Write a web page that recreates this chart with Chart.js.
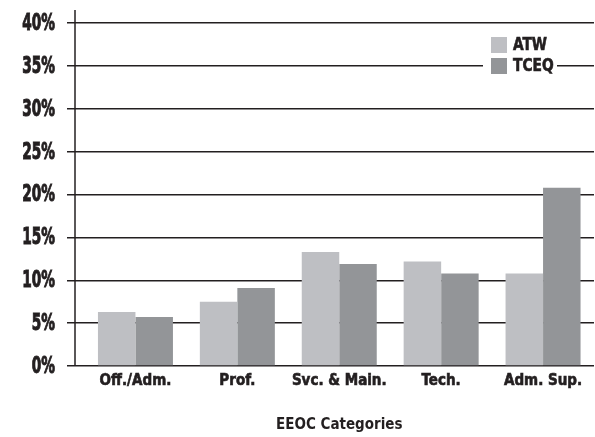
<!DOCTYPE html>
<html>
<head>
<meta charset="utf-8">
<script src="https://cdn.jsdelivr.net/npm/chart.js@4.4.1/dist/chart.umd.min.js"></script>
<style>
  html, body { margin: 0; padding: 0; background: #fff; }
  #wrap { width: 595px; height: 437px; }
</style>
</head>
<body>
<div id="wrap"><canvas id="eeoc" width="595" height="437"></canvas></div>
<script>
// EEOC category shares, ATW vs TCEQ (percent)
const categories = ['Off./Adm.', 'Prof.', 'Svc. & Main.', 'Tech.', 'Adm. Sup.'];
const atwValues = [6.3, 7.5, 13.3, 12.2, 10.8];
const tceqValues = [5.7, 9.1, 11.9, 10.8, 20.8];
const seriesNames = ['ATW', 'TCEQ'];
const yTicks = [0, 5, 10, 15, 20, 25, 30, 35, 40];
const axisTitle = 'EEOC Categories';

const INK = '#231f20';
const COLORS = ['#bebfc3', '#939598'];
const FONT = '"Liberation Sans Narrow", "DejaVu Sans Condensed", "Arial Narrow", sans-serif';

// vertical axis line sits left of the plot, ticks poke out past it
const axisLinePlugin = {
  id: 'axisLine',
  beforeDatasetsDraw(chart) {
    const { ctx, scales: { y } } = chart;
    ctx.save();
    ctx.strokeStyle = INK;
    ctx.lineWidth = 1.5;
    ctx.beginPath();
    ctx.moveTo(75, 10);
    ctx.lineTo(75, y.getPixelForValue(0));
    ctx.stroke();
    ctx.restore();
  }
};

// big squeezed percent labels, right-aligned at x=55
const yLabelPlugin = {
  id: 'yLabels',
  afterDraw(chart) {
    const { ctx, scales: { y } } = chart;
    ctx.save();
    ctx.fillStyle = INK;
    ctx.strokeStyle = INK;
    ctx.lineWidth = 1;
    ctx.font = 'bold 23px ' + FONT;
    ctx.textAlign = 'right';
    ctx.textBaseline = 'middle';
    y.ticks.forEach(t => {
      ctx.save();
      ctx.translate(55, y.getPixelForValue(t.value) + 1);
      ctx.scale(0.66, 1);
      ctx.fillText(t.value + '%', 0, 0);
      ctx.strokeText(t.value + '%', 0, 0);
      ctx.restore();
    });
    ctx.restore();
  }
};

// boxed legend in the top right, knocks out the gridline behind it
const cornerLegend = {
  id: 'cornerLegend',
  afterDatasetsDraw(chart) {
    const { ctx } = chart;
    ctx.save();
    ctx.fillStyle = '#fff';
    ctx.fillRect(483, 32, 74, 46);
    ctx.font = 'bold 17px ' + FONT;
    ctx.textBaseline = 'middle';
    ctx.textAlign = 'left';
    ctx.lineWidth = 0.6;
    ctx.strokeStyle = INK;
    chart.data.datasets.forEach((ds, i) => {
      const top = 37 + i * 21;
      ctx.fillStyle = ds.backgroundColor;
      ctx.fillRect(491, top, 16, 16);
      ctx.save();
      ctx.translate(513, top + 8.5);
      ctx.scale(0.9, 1);
      ctx.fillStyle = INK;
      ctx.fillText(ds.label, 0, 0);
      ctx.strokeText(ds.label, 0, 0);
      ctx.restore();
    });
    ctx.restore();
  }
};

new Chart(document.getElementById('eeoc'), {
  type: 'bar',
  data: {
    labels: categories,
    datasets: [
      { label: seriesNames[0], data: atwValues, backgroundColor: COLORS[0] },
      { label: seriesNames[1], data: tceqValues, backgroundColor: COLORS[1] }
    ]
  },
  options: {
    responsive: false,
    animation: false,
    devicePixelRatio: 1,
    layout: { padding: { top: 23, right: 1, left: 0, bottom: 0 } },
    categoryPercentage: 0.736,
    barPercentage: 1,
    plugins: {
      legend: { display: false },
      tooltip: { enabled: false }
    },
    scales: {
      x: {
        grid: { display: false, drawTicks: false },
        border: { display: false },
        ticks: {
          color: INK,
          padding: 6,
          autoSkip: false,
          maxRotation: 0,
          textStrokeColor: INK,
          textStrokeWidth: 0.6,
          font: { family: FONT, size: 15, weight: 'bold' }
        },
        title: {
          display: true,
          text: axisTitle,
          color: INK,
          font: { family: FONT, size: 15, weight: 'bold' },
          padding: { top: 0, bottom: 3 }
        },
        afterFit(scale) { scale.height = 71; }
      },
      y: {
        min: 0,
        max: 40,
        afterBuildTicks(scale) { scale.ticks = yTicks.map(v => ({ value: v })); },
        grid: {
          color: INK,
          lineWidth: 1.5,
          drawTicks: true,
          tickLength: 17.5,
          tickColor: INK,
          tickWidth: 1.5
        },
        border: { display: false },
        ticks: { display: false },
        afterFit(scale) { scale.width = 84.5; }
      }
    }
  },
  plugins: [axisLinePlugin, yLabelPlugin, cornerLegend]
});
</script>
</body>
</html>
